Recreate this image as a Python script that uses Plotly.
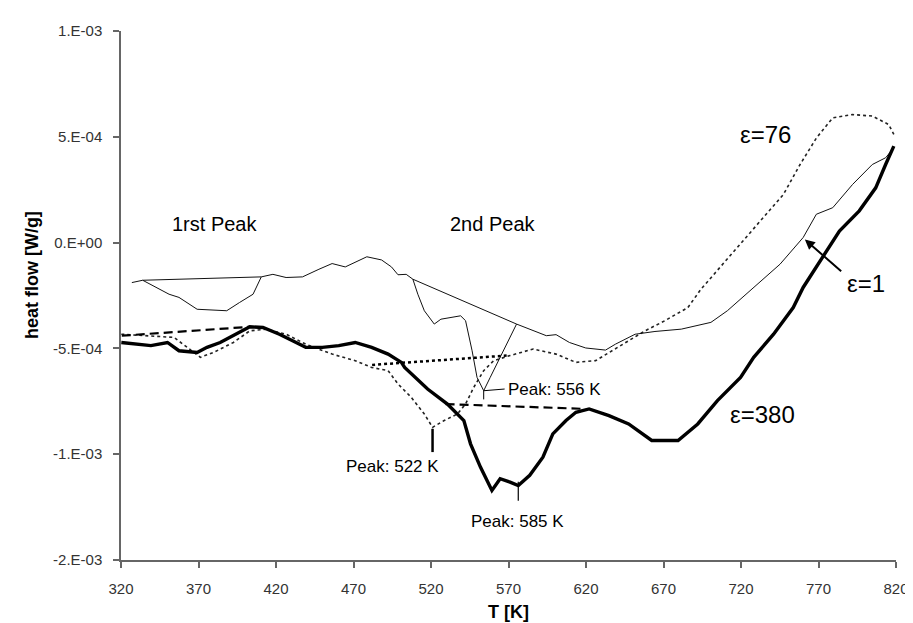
import numpy as np
import plotly.graph_objects as go

# ---- data (heat flow values in units of 1e-4 W/g) ----
eps1_T = [327, 334, 351, 357.4, 369.1, 388.2, 396.5, 405.2, 410.5, 418, 426.5, 437.1, 447.7,
          456.2, 464.7, 478.6, 488.1, 494.5, 498.7, 504, 508.3, 511.5, 515.7, 522.1, 526.4,
          539.1, 542.3, 546.5, 549.7, 554, 558.2, 562.5, 568.9, 575.2, 594.4, 600.7, 609.3,
          619.8, 632.6, 639, 651.7, 664.5, 681.5, 700.6, 711.2, 728.2, 745.2, 760.1, 768.6,
          779.2, 792, 804.7, 813.3, 818.6]
eps1_hf = [-1.89, -1.78, -2.44, -2.59, -3.15, -3.22, -2.83, -2.44, -1.62, -1.50, -1.65, -1.62, -1.26,
           -0.99, -1.15, -0.67, -0.82, -1.15, -1.52, -1.50, -1.73, -2.44, -3.22, -3.85, -3.62,
           -3.46, -3.69, -5.11, -6.37, -7.0, -6.37, -5.74, -4.80, -3.85, -4.40, -4.35, -4.72,
           -4.98, -5.08, -4.80, -4.33, -4.20, -4.09, -3.77, -3.22, -2.12, -1.02, 0.24, 1.34,
           1.65, 2.75, 3.69, 4.01, 4.48]

eps76_T = [320.2, 337.2, 354.2, 362.7, 371.2, 379.7, 392.5, 403.1, 413.7, 426.5, 439.2, 456.2,
           471.1, 481.7, 492.3, 498.7, 507.2, 515.7, 521, 528.5, 537, 542.3, 547.6, 554, 560.4,
           571, 585.9, 600.7, 613.5, 626.2, 636.9, 647.5, 658.1, 670.9, 685.7, 694.2, 715.5,
           732.5, 747.4, 758.1, 768.7, 779.2, 792, 804.7, 815.3, 818.6]
eps76_hf = [-4.33, -4.40, -4.48, -4.95, -5.42, -5.19, -4.72, -4.17, -4.09, -4.33, -4.80, -5.27,
            -5.58, -5.90, -6.05, -6.68, -7.31, -8.10, -8.73, -8.41, -8.10, -7.63, -6.84, -6.05, -5.58,
            -5.34, -5.03, -5.27, -5.66, -5.58, -5.11, -4.64, -4.17, -3.69, -3.07, -2.2, -0.39,
            1.02, 2.28, 3.69, 4.95, 5.90, 6.05, 5.98, 5.58, 5.11]

eps380_T = [320.2, 330.8, 339.3, 350, 357.4, 369.1, 375.5, 384, 394.6, 403.1, 411.6, 422.2, 430.7,
            439.2, 449.9, 460.5, 471.1, 481.7, 492.3, 500.9, 503, 517.8, 530.6, 541.2, 545.5,
            551.9, 559.3, 564.6, 571, 576.3, 583.7, 592.2, 598.6, 607.1, 613.5, 622, 634.8,
            647.5, 662.4, 679.4, 692.1, 704.8, 719.7, 728.2, 741, 753.7, 760.1, 772.8, 783.5,
            796.3, 806.9, 813.3, 818.6]
eps380_hf = [-4.72, -4.80, -4.87, -4.72, -5.11, -5.19, -4.95, -4.72, -4.33, -3.98, -4.01, -4.33, -4.64,
             -4.95, -4.95, -4.87, -4.72, -4.95, -5.27, -5.66, -5.9, -6.92, -7.63, -8.41, -9.51,
             -10.61, -11.71, -11.16, -11.32, -11.48, -11.0, -10.14, -9.04, -8.41, -8.02, -7.86, -8.18,
             -8.57, -9.35, -9.35, -8.57, -7.47, -6.37, -5.42, -4.33, -3.07, -2.12, -0.71, 0.55,
             1.50, 2.59, 3.69, 4.56]

# integration baselines
base1_peak1_T = [334, 410.5]
base1_peak1_hf = [-1.78, -1.62]
base1_peak2_T = [508.3, 575.2]
base1_peak2_hf = [-1.73, -3.85]
base380_peak1_T = [320.5, 403]
base380_peak1_hf = [-4.40, -3.98]
base380_peak2_T = [529.4, 619.7]
base380_peak2_hf = [-7.63, -7.86]
base76_peak2_T = [482, 568.8]
base76_peak2_hf = [-5.78, -5.34]

# peak markers
peak522_T = [521, 521]
peak522_hf = [-8.8, -9.9]
peak556_T = [554, 554, 554, 567.5]
peak556_hf = [-7.41, -7.0, -7.0, -6.92]
peak585_T = [576.3, 576.3]
peak585_hf = [-11.3, -12.2]

x_ticks = [320, 370, 420, 470, 520, 570, 620, 670, 720, 770, 820]
y_tickvals = [-1.5e-3, -1e-3, -5e-4, 0, 5e-4, 1e-3]
y_ticktext = ["-2.E-03", "-1.E-03", "-5.E-04", "0.E+00", "5.E-04", "1.E-03"]

S = 1e-4
FONT = "Liberation Sans, Arial, sans-serif"


def sc(v):
    return np.array(v) * S


fig = go.Figure()

fig.add_trace(go.Scatter(x=eps76_T, y=sc(eps76_hf), mode="lines",
                         line=dict(color="#222", width=1.6, dash="dot"), name="ε=76"))
fig.add_trace(go.Scatter(x=eps1_T, y=sc(eps1_hf), mode="lines",
                         line=dict(color="#111", width=1), name="ε=1"))
fig.add_trace(go.Scatter(x=eps380_T, y=sc(eps380_hf), mode="lines",
                         line=dict(color="#000", width=3.4), name="ε=380"))

for tx, ty in [(base1_peak1_T, base1_peak1_hf), (base1_peak2_T, base1_peak2_hf)]:
    fig.add_trace(go.Scatter(x=tx, y=sc(ty), mode="lines",
                             line=dict(color="#111", width=1), showlegend=False))
for tx, ty in [(base380_peak1_T, base380_peak1_hf), (base380_peak2_T, base380_peak2_hf)]:
    fig.add_trace(go.Scatter(x=tx, y=sc(ty), mode="lines",
                             line=dict(color="#000", width=2.2, dash="9px,5px"), showlegend=False))
fig.add_trace(go.Scatter(x=base76_peak2_T, y=sc(base76_peak2_hf), mode="lines",
                         line=dict(color="#000", width=2.5, dash="dot"), showlegend=False))

fig.add_trace(go.Scatter(x=peak522_T, y=sc(peak522_hf), mode="lines",
                         line=dict(color="#000", width=2.5), showlegend=False))
fig.add_trace(go.Scatter(x=peak556_T, y=sc(peak556_hf), mode="lines",
                         line=dict(color="#000", width=1), showlegend=False))
fig.add_trace(go.Scatter(x=peak585_T, y=sc(peak585_hf), mode="lines",
                         line=dict(color="#000", width=1.2), showlegend=False))

ann = [
    dict(x=380.6, y=0.9 * S, text="1rst Peak", size=20),
    dict(x=560, y=0.9 * S, text="2nd Peak", size=20),
    dict(x=736, y=5.11 * S, text="ε=76", size=24),
    dict(x=734.1, y=-8.1 * S, text="ε=380", size=24),
    dict(x=568.3, y=-6.92 * S, text="Peak: 556 K", size=17, xanchor="left"),
    dict(x=526.5, y=-10.6 * S, text="Peak: 522 K", size=17, xanchor="right"),
    dict(x=576, y=-13.2 * S, text="Peak: 585 K", size=17),
    dict(x=800.7, y=-1.93 * S, text="ε=1", size=24),
]
annotations = []
for a in ann:
    d = dict(xref="x", yref="y", showarrow=False,
             font=dict(family=FONT, color="#000", size=a["size"]))
    d.update({k: v for k, v in a.items() if k != "size"})
    annotations.append(d)

annotations.append(dict(x=761.2, y=0.15 * S, ax=785.6, ay=-1.42 * S, xref="x", yref="y",
                        axref="x", ayref="y", showarrow=True, arrowhead=2, arrowsize=1,
                        arrowwidth=2, arrowcolor="#000", text=""))

# y-axis title placed by pixel position converted to paper coordinates
annotations.append(dict(x=(23 - 113) / (913 - 113 - 16), y=1 - (268 - 23) / (623 - 23 - 69),
                        xref="paper", yref="paper", text="<b>heat flow [W/g]</b>",
                        xanchor="center", yanchor="middle", showarrow=False, textangle=-90,
                        font=dict(family=FONT, size=18, color="#000")))

fig.update_layout(
    width=913, height=623,
    margin=dict(l=113, r=16, t=23, b=69),
    paper_bgcolor="white", plot_bgcolor="white",
    showlegend=False,
    font=dict(family=FONT, color="#333"),
    annotations=annotations,
)
fig.update_xaxes(range=[320, 820], tickvals=x_ticks, showgrid=False, zeroline=False,
                 showline=True, linecolor="#666", linewidth=1.5, ticks="outside", ticklen=6,
                 tickcolor="#666", tickwidth=1.5, ticklabelstandoff=8,
                 tickfont=dict(size=15, color="#333"),
                 title=dict(text="<b>T [K]</b>", font=dict(size=18, color="#000"), standoff=10))
fig.update_yaxes(range=[-1.5e-3, 1e-3], tickvals=y_tickvals, ticktext=y_ticktext, showgrid=False,
                 zeroline=False, showline=True, linecolor="#666", linewidth=1.5, ticks="outside",
                 ticklen=6, tickcolor="#666", tickwidth=1.5, ticklabelstandoff=8,
                 tickfont=dict(size=15, color="#333"))

fig.write_html("out.html")
